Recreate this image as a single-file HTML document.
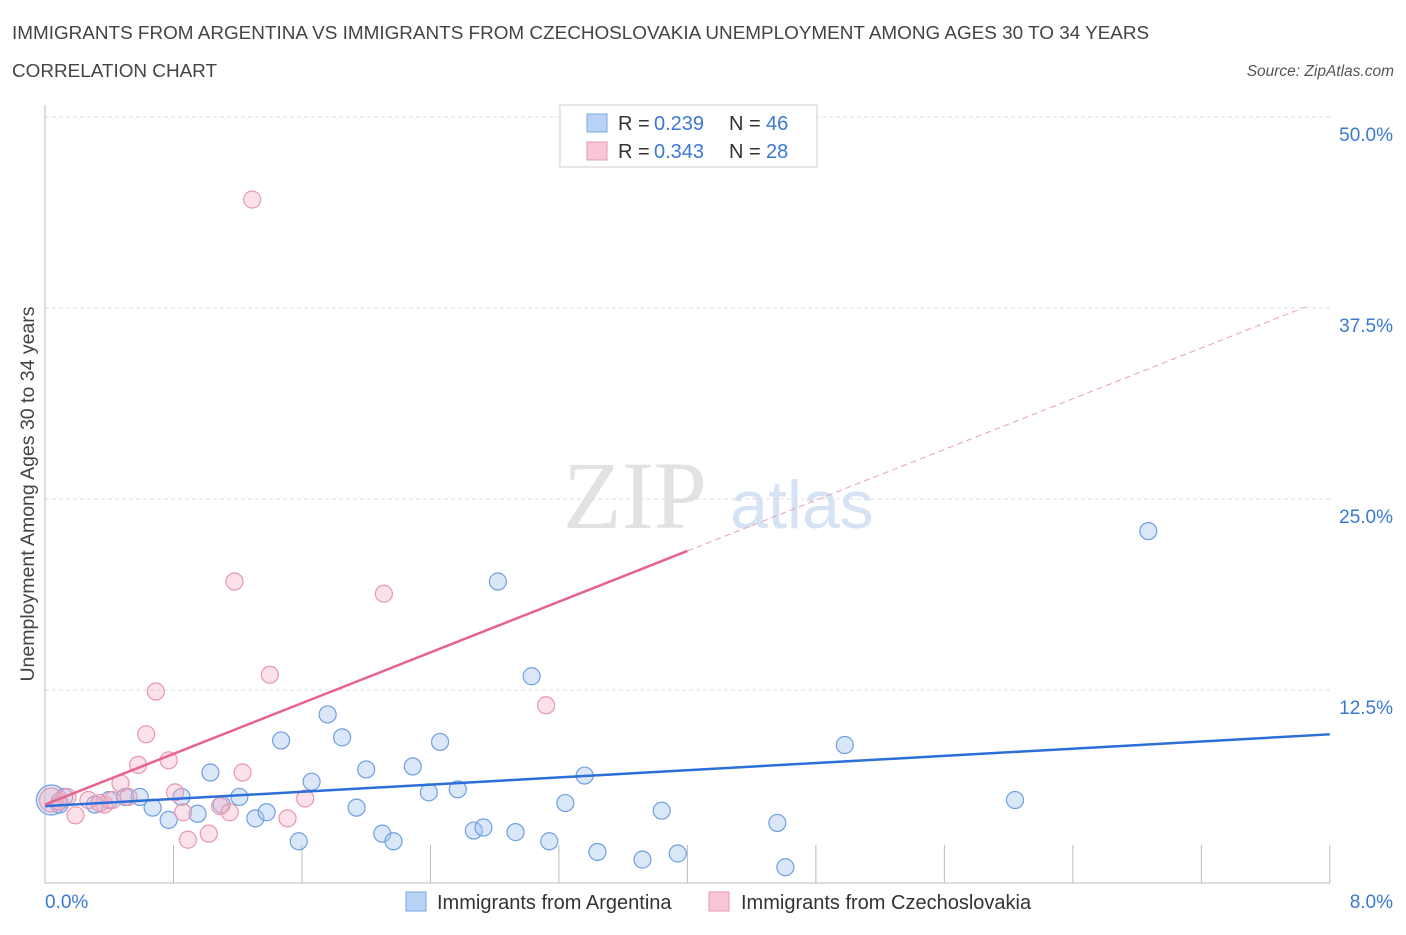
<!DOCTYPE html>
<html><head><meta charset="utf-8"><style>
body{margin:0;background:#fff;font-family:"Liberation Sans",sans-serif}
</style></head><body>
<svg id="c" width="1406" height="930" xmlns="http://www.w3.org/2000/svg">
<text x="12" y="39" font-size="18.9" fill="#444">IMMIGRANTS FROM ARGENTINA VS IMMIGRANTS FROM CZECHOSLOVAKIA UNEMPLOYMENT AMONG AGES 30 TO 34 YEARS</text>
<text x="12" y="77" font-size="18.9" fill="#444">CORRELATION CHART</text>
<text x="1394" y="76" font-size="15.5" fill="#555" font-style="italic" text-anchor="end">Source: ZipAtlas.com</text>
<text x="635" y="528" font-size="96" fill="#e2e2e2" font-family="Liberation Serif" text-anchor="middle">ZIP</text>
<text x="802" y="528" font-size="68" fill="#d5e3f5" text-anchor="middle">atlas</text>
<g id="grid"></g><g id="pts"></g><g id="lines"></g>
<text transform="translate(34,494) rotate(-90)" font-size="19.5" fill="#444" text-anchor="middle">Unemployment Among Ages 30 to 34 years</text>
<g>
<rect x="560" y="105" width="257" height="62" fill="#fff" stroke="#ccc"/>
<rect x="587" y="114" width="20" height="18" fill="#b8d3f5" stroke="#7aa7e0"/>
<rect x="587" y="142" width="20" height="18" fill="#f8c6d4" stroke="#e99ab1"/>
<text x="618" y="130" font-size="20" fill="#333">R =</text><text x="654" y="130" font-size="20" fill="#3a78d4">0.239</text>
<text x="729" y="130" font-size="20" fill="#333">N =</text><text x="766" y="130" font-size="20" fill="#3a78d4">46</text>
<text x="618" y="158" font-size="20" fill="#333">R =</text><text x="654" y="158" font-size="20" fill="#3a78d4">0.343</text>
<text x="729" y="158" font-size="20" fill="#333">N =</text><text x="766" y="158" font-size="20" fill="#3a78d4">28</text>
</g>
<g>
<rect x="406" y="892" width="20" height="19" fill="#b8d3f5" stroke="#7aa7e0"/>
<text x="437" y="909" font-size="20" fill="#333">Immigrants from Argentina</text>
<rect x="709" y="892" width="20" height="19" fill="#f8c6d4" stroke="#e99ab1"/>
<text x="741" y="909" font-size="20" fill="#333">Immigrants from Czechoslovakia</text>
</g>
</svg>
<script>
const blueX=[0.04,0.12,0.31,0.40,0.50,0.59,0.67,0.77,0.85,0.95,1.03,1.10,1.21,1.31,1.38,1.47,1.58,1.66,1.76,1.85,1.94,2.00,2.10,2.17,2.29,2.39,2.46,2.57,2.67,2.73,2.82,2.93,3.03,3.14,3.24,3.36,3.44,3.72,3.84,3.94,4.56,4.61,4.98,6.04,6.87,0.09];
const blueY=[5.3,5.5,5.0,5.3,5.5,5.5,4.8,4.0,5.5,4.4,7.1,5.0,5.5,4.1,4.5,9.2,2.6,6.5,10.9,9.4,4.8,7.3,3.1,2.6,7.5,5.8,9.1,6.0,3.3,3.5,19.6,3.2,13.4,2.6,5.1,6.9,1.9,1.4,4.6,1.8,3.8,0.9,8.9,5.3,22.9,5.0];
const pinkX=[0.04,0.09,0.19,0.27,0.37,0.47,0.52,0.58,0.63,0.69,0.77,0.81,0.86,0.89,1.02,1.09,1.15,1.18,1.23,1.29,1.40,1.51,1.62,2.11,3.12,0.14,0.34,0.42];
const pinkY=[5.3,5.2,4.3,5.3,5.0,6.4,5.5,7.6,9.6,12.4,7.9,5.8,4.5,2.7,3.1,4.9,4.5,19.6,7.1,44.6,13.5,4.1,5.4,18.8,11.5,5.5,5.1,5.3];
const yTicks=[12.5,25,37.5,50];
const yTickLabels=["12.5%","25.0%","37.5%","50.0%"];
const xTicks=[0,0.8,1.6,2.4,3.2,4,4.8,5.6,6.4,7.2,8];
const blueTrend=[4.9,9.6];
const pinkTrend=[5.0,4.15];
const NS="http://www.w3.org/2000/svg";
const X=v=>45+v*160.6, Y=v=>881-v*15.28;
function mk(t,a,p){const e=document.createElementNS(NS,t);for(const k in a)e.setAttribute(k,a[k]);p.appendChild(e);return e;}
const g=document.getElementById('grid');
yTicks.forEach((t,i)=>{const l=mk('line',{x1:45,x2:1330,y1:Y(t),y2:Y(t),stroke:'#ddd','stroke-dasharray':'4,3'},g);


const tx=mk('text',{x:1393,y:Y(t)+24,'font-size':19,fill:'#3a78d4','text-anchor':'end'},g);tx.textContent=yTickLabels[i];

});
const ax=mk('line',{x1:45,x2:45,y1:105,y2:883,stroke:'#bbb'},g);


const bx=mk('line',{x1:45,x2:1330,y1:883,y2:883,stroke:'#bbb'},g);


xTicks.forEach(t=>{const l=mk('line',{x1:X(t),x2:X(t),y1:845,y2:883,stroke:'#bbb'},g);

});
const x0=mk('text',{x:45,y:908,'font-size':19,fill:'#3a78d4'},g);x0.textContent='0.0%';


const x8=mk('text',{x:1393,y:908,'font-size':19,fill:'#3a78d4','text-anchor':'end'},g);x8.textContent='8.0%';


const p=document.getElementById('pts');
blueX.forEach((x,i)=>{const c=mk('circle',{cx:X(x),cy:Y(blueY[i]),r:i==0?15:8.5,fill:'rgba(160,196,240,0.4)',stroke:'#6f9fe0','stroke-width':1.2},p);

});
pinkX.forEach((x,i)=>{const c=mk('circle',{cx:X(x),cy:Y(pinkY[i]),r:i==0?12:8.5,fill:'rgba(246,180,200,0.4)',stroke:'#e897b0','stroke-width':1.2},p);

});
const L=document.getElementById('lines');
const bl=mk('line',{x1:X(0),y1:Y(blueTrend[0]),x2:X(8),y2:Y(blueTrend[1]),stroke:'#2c6fd6','stroke-width':2.5},L);


const pl=mk('line',{x1:X(0),y1:Y(pinkTrend[0]),x2:X(4),y2:Y(pinkTrend[0]+4*pinkTrend[1]),stroke:'#e8628c','stroke-width':2.5},L);


const pd=mk('line',{x1:X(4),y1:Y(pinkTrend[0]+4*pinkTrend[1]),x2:X(7.85),y2:Y(pinkTrend[0]+7.85*pinkTrend[1]),stroke:'#e8a0b6','stroke-width':1,'stroke-dasharray':'6,4'},L);


</script>
</body></html>
